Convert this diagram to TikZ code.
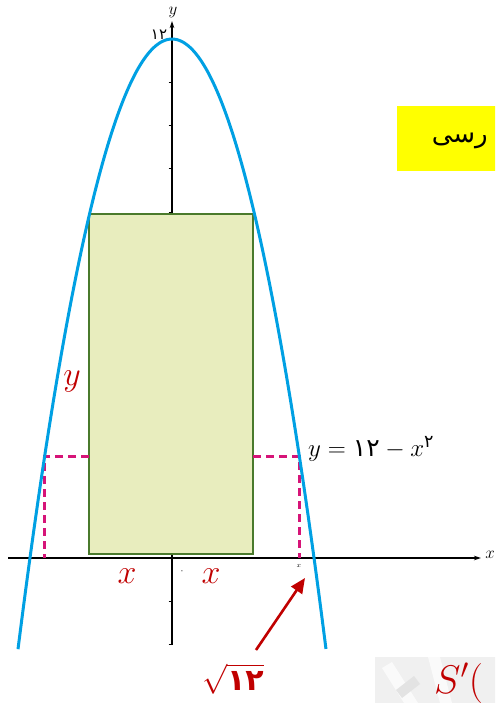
\RequirePackage{fix-cm}
\documentclass[tikz,border=0pt]{standalone}
\usepackage{amsmath}
\usepackage{fontspec}
\usetikzlibrary{arrows.meta}
\newfontfamily\pfont{DejaVu Sans}
\newfontfamily\arabicfont[Script=Arabic]{DejaVu Sans}
\TeXXeTstate=1
\definecolor{parab}{RGB}{0,160,227}
\definecolor{rectfill}{RGB}{232,237,190}
\definecolor{rectline}{RGB}{74,122,44}
\definecolor{dashmag}{RGB}{214,20,120}
\definecolor{redlab}{RGB}{192,0,0}
\definecolor{ybox}{RGB}{255,255,0}
\begin{document}
\begin{tikzpicture}[x=1pt,y=-1pt,
  axisline/.style={line width=1.1pt,black},
  axisarrow/.style={axisline,-{Stealth[length=7pt,width=4.5pt]}},
  tickline/.style={line width=0.8pt,black},
  rectbox/.style={draw=rectline,fill=rectfill,line width=2.4pt},
  dashline/.style={draw=dashmag,line width=3pt,dash pattern=on 8pt off 5pt},
  parabline/.style={draw=parab,line width=3pt},
  redlabel/.style={text=redlab,inner sep=0pt},
  redarrow/.style={draw=redlab,line width=2.6pt,-{Triangle[length=15pt,width=13pt]}},
  plain/.style={inner sep=0pt}]
\useasboundingbox (0,0) rectangle (495,703);
\clip (0,0) rectangle (495,703);
% yellow box
\fill[ybox] (397,106) rectangle (500,171);
\node[plain,anchor=east,font=\arabicfont\fontsize{26}{30}\selectfont] (ar) at (488,141) {\beginR رسی\endR};
% axes
\coordinate (xs) at (8,558);
\coordinate (xe) at (481,558);
\coordinate (ys) at (172,645);
\coordinate (ye) at (172,21);
\draw[axisarrow] (xs) -- (xe);
\draw[axisarrow] (ys) -- (ye);
\foreach \k in {-2,-1,1,2,...,11}
  \draw[tickline] (168.5,{558-43.25*\k}) -- (172,{558-43.25*\k});
\node[plain] (xlab) at (490,555) {\fontsize{17}{18}\selectfont $x$};
\node[plain] (ylab) at (173,12) {\fontsize{17}{18}\selectfont $y$};
% rectangle
\draw[rectbox] (89,214) rectangle (253,554);
% dashed
\coordinate (dl1) at (89,456);
\coordinate (dl2) at (44,456);
\coordinate (dl3) at (44,558);
\coordinate (dr1) at (253,456);
\coordinate (dr2) at (299,456);
\coordinate (dr3) at (299,558);
\draw[dashline] (dl1) -- (dl2) -- (dl3);
\draw[dashline] (dr1) -- (dr2) -- (dr3);
% parabola
\draw[parabline] plot[domain=-3.756:3.756,samples=90,smooth] ({172+41*\x},{39+43.25*\x*\x});
% labels
\node[plain] (twelve) at (159,35) {\pfont\fontsize{15}{16}\selectfont ۱۲};
\node[plain] (zero) at (182,572) {\pfont\fontsize{8}{9}\selectfont ۰};
\node[plain] (tinyx) at (299,566) {\fontsize{7}{8}\selectfont $x$};
\node[plain,anchor=west] (eq) at (308,449) {\fontsize{25}{27}\selectfont $y=\text{\pfont ۱۲}-x^{\text{\pfont ۲}}$};
\node[redlabel] (xleft) at (127,576) {\fontsize{34}{36}\selectfont $x$};
\node[redlabel] (xright) at (211,576) {\fontsize{34}{36}\selectfont $x$};
\node[redlabel] (ylabel) at (72,381) {\fontsize{34}{36}\selectfont $y$};
\node[redlabel] (sq) at (233,679) {\fontsize{30}{32}\selectfont $\sqrt{\text{\pfont\bfseries ۱۲}}$};
\coordinate (atail) at (256,650);
\coordinate (ahead) at (305,578);
\draw[redarrow] (atail) -- (ahead);
% bottom right decoration
\fill[gray!12] (375,657) rectangle (500,703);
\fill[gray!4] (382,668) -- (392,662) -- (418,703) -- (404,703) -- cycle;
\fill[gray!22] (396,690) -- (414,676) -- (420,684) -- (402,698) -- cycle;
\fill[gray!4] (428,657) -- (440,657) -- (452,703) -- (440,703) -- cycle;
\node[redlabel,anchor=west] (sp) at (434,683) {\fontsize{40}{42}\selectfont $S'($};
\end{tikzpicture}
\end{document}
